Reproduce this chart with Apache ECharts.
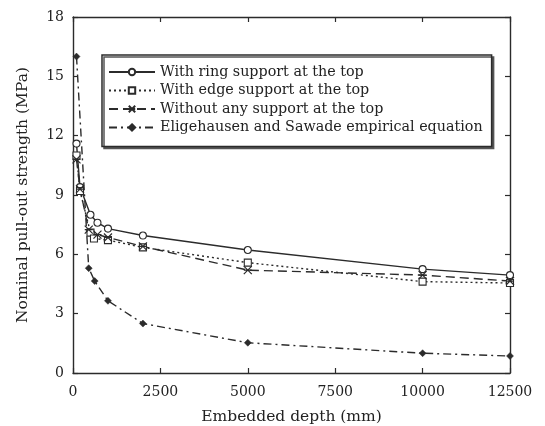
<!DOCTYPE html>
<html>
<head>
<meta charset="utf-8">
<script src="https://cdn.jsdelivr.net/npm/echarts@6/dist/echarts.min.js"></script>
<style>
  html, body { margin: 0; padding: 0; background: #fff; }
  #chart { width: 545px; height: 426px; }
</style>
</head>
<body>
<div id="chart"></div>
<script>
// Embedded depth (mm) and nominal pull-out strength (MPa) for each test series
const ringDepth  = [100, 200, 500, 700, 1000, 2000, 5000, 10000, 12500];
const ringStress = [11.6, 9.4, 8.0, 7.6, 7.3, 6.95, 6.22, 5.25, 4.95];

const edgeDepth  = [100, 200, 500, 600, 1000, 2000, 5000, 10000, 12500];
const edgeStress = [11.0, 9.2, 7.1, 6.8, 6.72, 6.35, 5.58, 4.62, 4.55];

const noneDepth  = [100, 200, 450, 700, 1000, 2000, 5000, 10000, 12500];
const noneStress = [10.8, 9.3, 7.25, 7.0, 6.85, 6.4, 5.2, 4.95, 4.65];

const eligDepth  = [100, 450, 620, 1000, 2000, 5000, 10000, 12500];
const eligStress = [16.0, 5.3, 4.65, 3.65, 2.5, 1.53, 1.0, 0.86];

const seriesNames = [
  'With ring support at the top',
  'With edge support at the top',
  'Without any support at the top',
  'Eligehausen and Sawade empirical equation'
];

const xTicks = { min: 0, max: 12500, interval: 2500 };
const yTicks = { min: 0, max: 18, interval: 3 };

const ink = '#2b2b2b';
const serif = '"DejaVu Serif", "Liberation Serif", serif';

function pairs(xs, ys) {
  return xs.map((x, i) => [x, ys[i]]);
}

const chart = echarts.init(document.getElementById('chart'), null, { renderer: 'canvas' });

const axisLine = { show: true, onZero: false, lineStyle: { color: ink, width: 1.4 } };
const tickIn = { show: true, inside: true, length: 5, lineStyle: { color: ink, width: 1.2 } };
const plain = v => String(v);

chart.setOption({
  backgroundColor: '#fff',
  animation: false,
  grid: { left: 73, right: 35, top: 17, bottom: 53, outerBoundsMode: 'none' },
  legend: {
    orient: 'vertical',
    left: 102,
    top: 55,
    padding: [10, 9, 12, 6],
    itemGap: 4.5,
    itemWidth: 46,
    itemHeight: 8,
    backgroundColor: '#fff',
    borderColor: ink,
    borderWidth: 1.5,
    shadowColor: '#555',
    shadowOffsetX: 2,
    shadowOffsetY: 2,
    shadowBlur: 0,
    textStyle: { fontFamily: serif, fontSize: 14.3, color: '#222' },
    data: seriesNames
  },
  xAxis: [
    {
      type: 'value', min: xTicks.min, max: xTicks.max, interval: xTicks.interval,
      name: 'Embedded depth (mm)', nameLocation: 'middle', nameGap: 36,
      nameTextStyle: { fontFamily: serif, fontSize: 15.5, color: '#222' },
      axisLine: axisLine, axisTick: tickIn,
      axisLabel: { fontFamily: serif, fontSize: 14, color: '#222', margin: 12, formatter: plain },
      splitLine: { show: false }
    },
    {
      type: 'value', position: 'top', min: xTicks.min, max: xTicks.max, interval: xTicks.interval,
      axisLine: axisLine, axisTick: tickIn, axisLabel: { show: false }, splitLine: { show: false }
    }
  ],
  yAxis: [
    {
      type: 'value', min: yTicks.min, max: yTicks.max, interval: yTicks.interval,
      name: 'Nominal pull-out strength (MPa)', nameLocation: 'middle', nameGap: 42,
      nameTextStyle: { fontFamily: serif, fontSize: 15.5, color: '#222' },
      axisLine: axisLine, axisTick: tickIn,
      axisLabel: { fontFamily: serif, fontSize: 14, color: '#222', margin: 9, formatter: plain },
      splitLine: { show: false }
    },
    {
      type: 'value', position: 'right', min: yTicks.min, max: yTicks.max, interval: yTicks.interval,
      axisLine: axisLine, axisTick: tickIn, axisLabel: { show: false }, splitLine: { show: false }
    }
  ],
  series: [
    {
      name: seriesNames[0], type: 'line', data: pairs(ringDepth, ringStress),
      symbol: 'circle', symbolSize: 7,
      itemStyle: { color: '#fff', borderColor: ink, borderWidth: 1.1 },
      lineStyle: { color: ink, width: 1.4, type: 'solid' }
    },
    {
      name: seriesNames[1], type: 'line', data: pairs(edgeDepth, edgeStress),
      symbol: 'rect', symbolSize: 7,
      itemStyle: { color: '#fff', borderColor: ink, borderWidth: 1.1 },
      lineStyle: { color: ink, width: 1.4, type: [2, 3] }
    },
    {
      name: seriesNames[2], type: 'line', data: pairs(noneDepth, noneStress),
      symbol: 'path://M0,0L10,10M10,0L0,10M0,5L10,5', symbolSize: 8,
      itemStyle: { color: 'none', borderColor: ink, borderWidth: 1.2 },
      lineStyle: { color: ink, width: 1.4, type: [9, 5] }
    },
    {
      name: seriesNames[3], type: 'line', data: pairs(eligDepth, eligStress),
      symbol: 'diamond', symbolSize: 7,
      itemStyle: { color: ink, borderColor: ink, borderWidth: 0.5 },
      lineStyle: { color: ink, width: 1.4, type: [8, 4, 2, 4] }
    }
  ]
});
</script>
</body>
</html>
